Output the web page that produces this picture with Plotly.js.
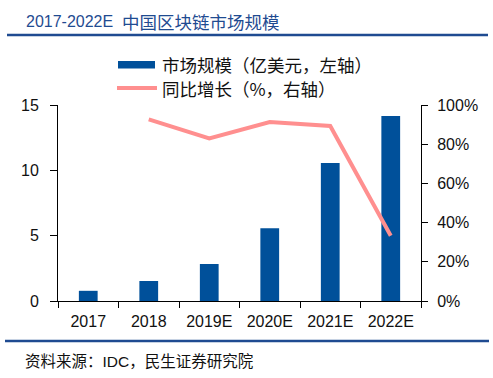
<!DOCTYPE html>
<html>
<head>
<meta charset="utf-8">
<script src="https://cdn.plot.ly/plotly-3.0.1.min.js"></script>
<style>html,body{margin:0;padding:0;background:#fff;}#chart{width:493px;height:378px;}</style>
</head>
<body>
<div id="chart"></div>
<script>
// Data
const years = ['2017', '2018', '2019E', '2020E', '2021E', '2022E'];
const marketSize = [0.78, 1.53, 2.83, 5.56, 10.56, 14.15];
const growthYears = ['2018', '2019E', '2020E', '2021E', '2022E'];
const growthRate = [0.927, 0.83, 0.913, 0.893, 0.333];
const leftTicks = [0, 5, 10, 15];
const rightTicks = [0, 0.2, 0.4, 0.6, 0.8, 1.0];
const titleYear = '2017-2022E';
const titleMain = '中国区块链市场规模';
const legendBar = '市场规模（亿美元，左轴）';
const legendLine = '同比增长（%，右轴）';
const sourceText = '资料来源：IDC，民生证券研究院';

const W = 493, H = 378;
const M = {l: 58, r: 72, t: 105, b: 77};
const PW = W - M.l - M.r, PH = H - M.t - M.b;
const X = px => (px - M.l) / PW;
const Y = py => (H - M.b - py) / PH;

const BLUE = '#00509A';
const PINK = '#FF8F8F';
const TITLE_BLUE = '#1F4B91';
const LATIN = 'Liberation Sans, Arial, sans-serif';
const CJK = 'Noto Sans CJK SC, sans-serif';
const MIX = 'Liberation Sans, Noto Sans CJK SC, sans-serif';

const traces = [
  {type: 'bar', x: years, y: marketSize, marker: {color: BLUE}, showlegend: false, hoverinfo: 'none'},
  {type: 'scatter', mode: 'lines', x: growthYears, y: growthRate, yaxis: 'y2',
   line: {color: PINK, width: 4}, showlegend: false, hoverinfo: 'none'}
];

const layout = {
  width: W, height: H,
  margin: M,
  paper_bgcolor: '#fff', plot_bgcolor: '#fff',
  bargap: 0.69,
  showlegend: false,
  font: {family: LATIN, size: 16, color: '#111'},
  xaxis: {
    type: 'category', showline: true, linecolor: '#000', linewidth: 1,
    ticks: 'outside', tickson: 'boundaries', ticklen: 6, tickcolor: '#000',
    showgrid: false, zeroline: false, ticklabelstandoff: 6,
    tickfont: {family: LATIN, size: 16, color: '#111'}
  },
  yaxis: {
    range: [0, 15], tickvals: leftTicks, showline: true, linecolor: '#000', linewidth: 1,
    ticks: 'outside', ticklen: 7, tickcolor: '#000', showgrid: false, zeroline: false,
    ticklabelstandoff: 8, tickfont: {family: LATIN, size: 16, color: '#111'}
  },
  yaxis2: {
    overlaying: 'y', side: 'right', range: [0, 1], tickvals: rightTicks, tickformat: '.0%',
    showline: true, linecolor: '#000', linewidth: 1, ticks: 'outside', ticklen: 6,
    tickcolor: '#000', showgrid: false, zeroline: false, ticklabelstandoff: 6,
    tickfont: {family: LATIN, size: 16, color: '#111'}
  },
  shapes: [
    {type: 'line', xref: 'paper', yref: 'paper', x0: X(7), x1: X(488), y0: Y(35), y1: Y(35),
     line: {color: TITLE_BLUE, width: 2.5}},
    {type: 'line', xref: 'paper', yref: 'paper', x0: X(5), x1: X(489), y0: Y(341), y1: Y(341),
     line: {color: TITLE_BLUE, width: 2.5}},
    {type: 'rect', xref: 'paper', yref: 'paper', x0: X(118), x1: X(155), y0: Y(61), y1: Y(68.5),
     fillcolor: BLUE, line: {width: 0}},
    {type: 'line', xref: 'paper', yref: 'paper', x0: X(117), x1: X(157), y0: Y(88), y1: Y(88),
     line: {color: PINK, width: 4}}
  ],
  annotations: [
    {xref: 'paper', yref: 'paper', x: X(24), y: Y(21), xanchor: 'left', yanchor: 'middle',
     text: titleYear, showarrow: false, font: {family: LATIN, size: 16, color: TITLE_BLUE}},
    {xref: 'paper', yref: 'paper', x: X(120), y: Y(21), xanchor: 'left', yanchor: 'middle',
     text: titleMain, showarrow: false, font: {family: CJK, size: 17.5, color: TITLE_BLUE}},
    {xref: 'paper', yref: 'paper', x: X(160), y: Y(64.5), xanchor: 'left', yanchor: 'middle',
     text: legendBar, showarrow: false, font: {family: CJK, size: 17.5, color: '#111'}},
    {xref: 'paper', yref: 'paper', x: X(160), y: Y(88), xanchor: 'left', yanchor: 'middle',
     text: legendLine, showarrow: false, font: {family: CJK, size: 17.5, color: '#111'}},
    {xref: 'paper', yref: 'paper', x: X(23), y: Y(361), xanchor: 'left', yanchor: 'middle',
     text: sourceText, showarrow: false, font: {family: MIX, size: 15.5, color: '#111'}}
  ]
};

Plotly.newPlot('chart', traces, layout, {staticPlot: true, displayModeBar: false});
</script>
</body>
</html>
